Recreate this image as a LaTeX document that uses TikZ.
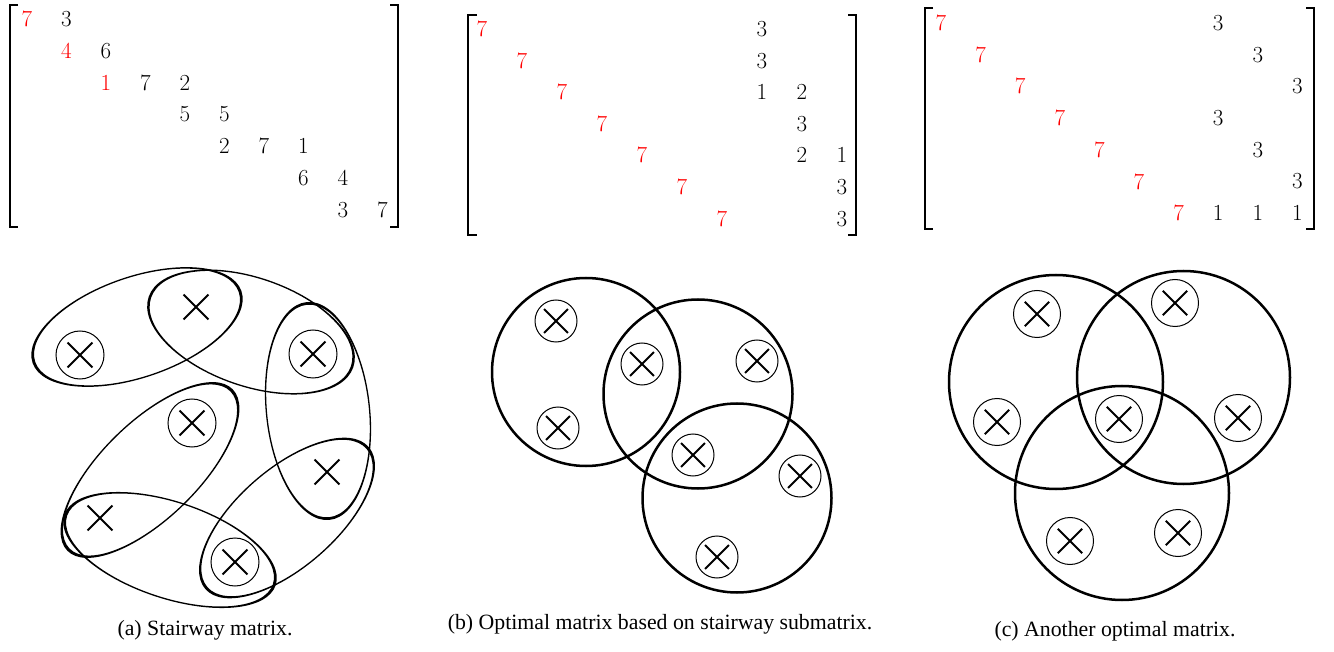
\documentclass[tikz,border=0pt]{standalone}
\usepackage{fontspec}
\newfontfamily\capfont{Liberation Serif}
\usetikzlibrary{shapes.misc}
\newcommand\eggshape[5]{\begin{scope}[transform canvas={shift={(#1,#2)},rotate=#3,xscale=#4}]\draw[line width=1.3pt] (0,0) circle [radius=#5pt];\end{scope}}
\begin{document}
\begin{tikzpicture}[x=1pt,y=-1pt,
  dig/.style={font=\fontsize{23}{23}\selectfont, inner sep=0pt},
  hl/.style={dig, text=red},
  xmark/.style={draw, cross out, minimum size=#1, inner sep=0pt, line width=1.8pt},
  ring/.style={draw, circle, minimum size=#1, inner sep=0pt, line width=1pt},
  bigc/.style={draw, circle, minimum size=#1, inner sep=0pt, line width=2.5pt},
  brk/.style={line width=1.6pt},
  captext/.style={font=\capfont\fontsize{21.8}{24}\selectfont, anchor=base}]
\useasboundingbox (0,0) rectangle (1334,652);

% ---------------- matrix (a)
\foreach \c/\r/\v/\s [count=\i] in {1/1/7/hl,2/1/3/dig,2/2/4/hl,3/2/6/dig,3/3/1/hl,4/3/7/dig,5/3/2/dig,
  5/4/5/dig,6/4/5/dig,6/5/2/dig,7/5/7/dig,8/5/1/dig,8/6/6/dig,9/6/4/dig,9/7/3/dig,10/7/7/dig}
  \node[\s] (ma\i) at ({27+39.5*(\c-1)},{19+31.8*(\r-1)}) {\v};
\draw[brk] (18,5) -- (10,5) -- (10,227) -- (18,227);
\draw[brk] (390,5) -- (398,5) -- (398,227) -- (390,227);

% ---------------- matrix (b)
\foreach \c/\r/\v/\s [count=\i] in {1/1/7/hl,2/2/7/hl,3/3/7/hl,4/4/7/hl,5/5/7/hl,6/6/7/hl,7/7/7/hl,
  8/1/3/dig,8/2/3/dig,8/3/1/dig,9/3/2/dig,9/4/3/dig,9/5/2/dig,10/5/1/dig,10/6/3/dig,10/7/3/dig}
  \node[\s] (mb\i) at ({482+40*(\c-1)},{29+31.6*(\r-1)}) {\v};
\draw[brk] (477,15) -- (468,15) -- (468,235) -- (477,235);
\draw[brk] (848,15) -- (856,15) -- (856,235) -- (848,235);

% ---------------- matrix (c)
\foreach \c/\r/\v/\s [count=\i] in {1/1/7/hl,2/2/7/hl,3/3/7/hl,4/4/7/hl,5/5/7/hl,6/6/7/hl,7/7/7/hl,
  8/1/3/dig,9/2/3/dig,10/3/3/dig,8/4/3/dig,9/5/3/dig,10/6/3/dig,8/7/1/dig,9/7/1/dig,10/7/1/dig}
  \node[\s] (mc\i) at ({941+39.6*(\c-1)},{23+31.7*(\r-1)}) {\v};
\draw[brk] (933,8) -- (925,8) -- (925,229) -- (933,229);
\draw[brk] (1306,8) -- (1314,8) -- (1314,229) -- (1306,229);

% ---------------- hypergraph (a)
\eggshape{137}{327}{19}{2.18}{50}
\eggshape{251}{332}{-19}{1.98}{54}
\eggshape{318}{411}{96}{2.1}{51.5}
\eggshape{287}{518}{41}{2.18}{49}
\eggshape{170}{550}{-18.4}{2.29}{48}
\eggshape{150}{470}{44.3}{2.375}{48}
\node[ring=48pt] (a1) at (80,355) {};
\node[xmark=23pt] (a1x) at (80,355) {};
\node[xmark=23pt] (a2) at (196,307) {};
\node[ring=48pt] (a3) at (313,354) {};
\node[xmark=23pt] (a3x) at (313,354) {};
\node[xmark=23pt] (a4) at (327,472) {};
\node[ring=48pt] (a5) at (235,562) {};
\node[xmark=23pt] (a5x) at (235,562) {};
\node[xmark=23pt] (a6) at (100,518) {};
\node[ring=48pt] (a7) at (192,423) {};
\node[xmark=23pt] (a7x) at (192,423) {};

% ---------------- hypergraph (b)
\node[bigc=188pt] (bc1) at (586,372) {};
\node[bigc=189pt] (bc2) at (698,394) {};
\node[bigc=189pt] (bc3) at (737,498) {};
\foreach \x/\y [count=\i] in {556/321,558/428,642/364,757/361,693/455,800/476,717/557}{
  \node[ring=42pt] (b\i) at (\x,\y) {};
  \node[xmark=22pt] (b\i x) at (\x,\y) {};
}

% ---------------- hypergraph (c)
\node[bigc=214pt] (cc1) at (1056,382) {};
\node[bigc=213pt] (cc2) at (1183.5,377.5) {};
\node[bigc=214pt] (cc3) at (1122,493) {};
\foreach \x/\y [count=\i] in {1037/314,1175/303,997/422,1119/419,1238/418,1070/541,1178/533}{
  \node[ring=47pt] (c\i) at (\x,\y) {};
  \node[xmark=22.6pt] (c\i x) at (\x,\y) {};
}

% ---------------- captions
\node[captext] (capa) at (205,635) {(a) Stairway matrix.};
\node[captext] (capb) at (660,629) {(b) Optimal matrix based on stairway submatrix.};
\node[captext] (capc) at (1115,636) {(c) Another optimal matrix.};
\end{tikzpicture}
\end{document}
